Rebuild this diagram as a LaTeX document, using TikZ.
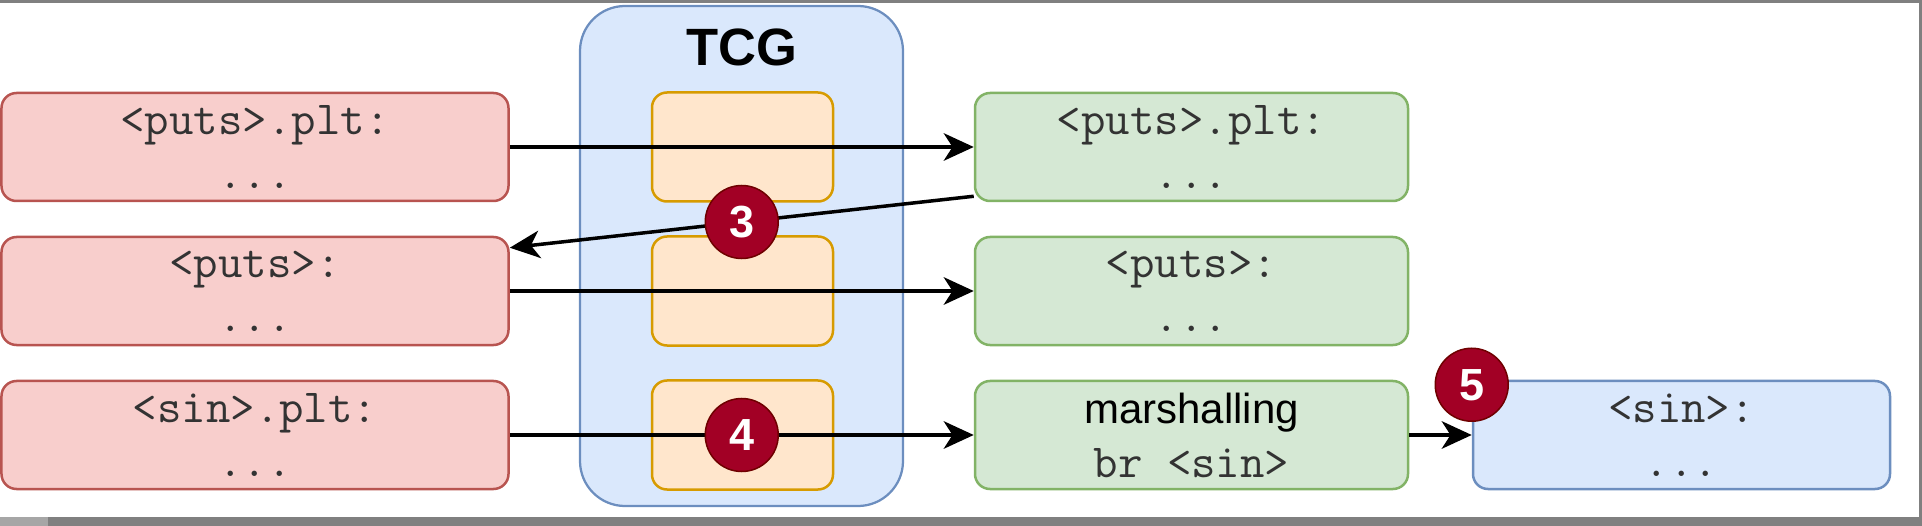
\documentclass[tikz,border=0pt]{standalone}
\usepackage{fontspec}
\setmainfont{Liberation Sans}
\usetikzlibrary{arrows.meta,calc}
\definecolor{redfill}{HTML}{F8CECC}
\definecolor{redline}{HTML}{B85450}
\definecolor{greenfill}{HTML}{D5E8D4}
\definecolor{greenline}{HTML}{82B366}
\definecolor{bluefill}{HTML}{DAE8FC}
\definecolor{blueline}{HTML}{6C8EBF}
\definecolor{orangefill}{HTML}{FFE6CC}
\definecolor{orangeline}{HTML}{D79B00}
\definecolor{badgefill}{HTML}{A20025}
\definecolor{badgeline}{HTML}{6F0000}
\definecolor{shotframe}{HTML}{808080}

\begin{document}
\begin{tikzpicture}[x=0.4pt,y=-0.4pt,
  box/.style={rounded corners=6pt,line width=1pt,align=center,text=black!80,
    font=\ttfamily\fontsize{19}{21.6}\selectfont,minimum height=43.2pt,inner sep=0pt},
  redbox/.style={box,fill=redfill,draw=redline,minimum width=202.8pt},
  greenbox/.style={box,fill=greenfill,draw=greenline,minimum width=173.2pt},
  bluebox/.style={box,fill=bluefill,draw=blueline,minimum width=166.8pt},
  slot/.style={rounded corners=6pt,line width=1pt,fill=orangefill,draw=orangeline,
    minimum width=72.4pt,minimum height=43.6pt},
  tcgbox/.style={rounded corners=18pt,line width=0.9pt,fill=bluefill,draw=blueline,
    minimum width=129.2pt,minimum height=200pt},
  badge/.style={circle,fill=badgefill,draw=badgeline,line width=0.6pt,text=white,
    inner sep=0pt,minimum size=29.2pt,font=\bfseries\fontsize{18}{18}\selectfont},
  arr/.style={-{Stealth[length=12pt,width=11pt,inset=3.5pt]},line width=1.4pt}]
\useasboundingbox (0,0) rectangle (1922,526);

% screenshot frame
\fill[shotframe] (0,0) rectangle (1922,3);
\fill[shotframe] (0,517) rectangle (1922,526);
\fill[shotframe] (1919,0) rectangle (1922,526);
\fill[shotframe!70] (0,517) rectangle (48,526);

% TCG column
\node[tcgbox] (tcg) at (741.5,256) {};
\node[font=\bfseries\fontsize{21}{21}\selectfont] (tcglabel) at (741.5,47) {TCG};
\node[slot] (slot1) at (742.5,147) {};
\node[slot] (slot2) at (742.5,291) {};
\node[slot] (slot3) at (742.5,435) {};

% guest side
\node[redbox] (red1) at (255,147) {<puts>.plt:\\...};
\node[redbox] (red2) at (255,291) {<puts>:\\...};
\node[redbox] (red3) at (255,435) {<sin>.plt:\\...};

% host side
\node[greenbox] (green1) at (1191.5,147) {<puts>.plt:\\...};
\node[greenbox] (green2) at (1191.5,291) {<puts>:\\...};
\node[greenbox] (green3) at (1191.5,435) {{\rmfamily\fontsize{16.8}{16.8}\selectfont\color{black}marshalling}\\br <sin>};
\node[bluebox] (blue1) at (1681.5,435) {<sin>:\\...};

% arrows
\coordinate (g1out) at ($(green1.south west)+(0,2.4pt)$);
\coordinate (r2in) at ($(red2.north east)+(0,-4.8pt)$);
\draw[arr] (red1) -- (green1);
\draw[arr] (g1out) -- node[badge] (b3) {3} (r2in);
\draw[arr] (red2) -- (green2);
\draw[arr] (red3) -- node[badge] (b4) {4} (green3);
\draw[arr] (green3) -- (blue1);
\node[badge] (b5) at ($(blue1.north west)+(0,-2pt)$) {5};
\end{tikzpicture}
\end{document}
